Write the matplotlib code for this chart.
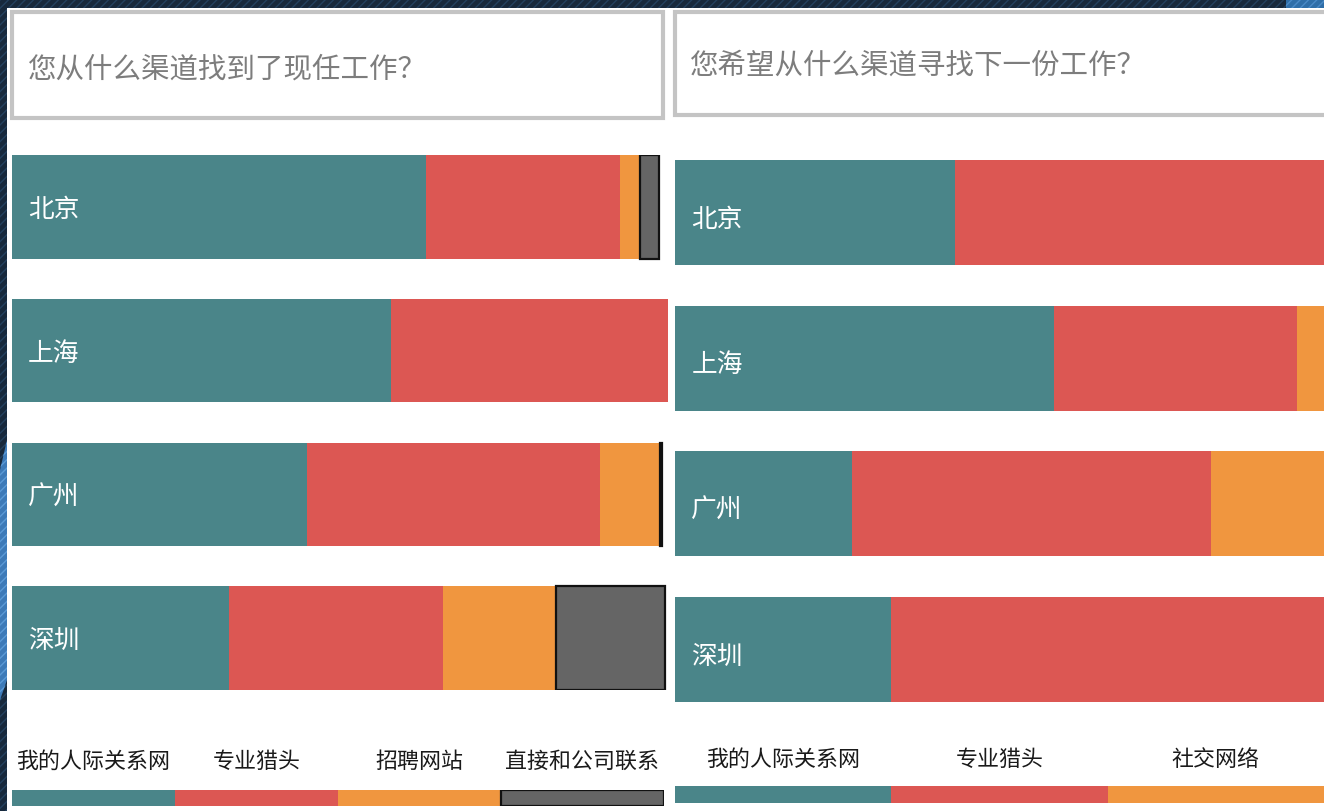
import matplotlib.pyplot as plt
from matplotlib.patches import Rectangle, Polygon
import numpy as np

plt.rcParams['font.family'] = ['Noto Sans CJK SC', 'DejaVu Sans']
plt.rcParams['hatch.linewidth'] = 1.0

W, H = 1324, 811

cities = ["北京", "上海", "广州", "深圳"]

# left panel: 您从什么渠道找到了现任工作？
now_title = "您从什么渠道找到了现任工作？"
now_channels = ["我的人际关系网", "专业猎头", "招聘网站", "直接和公司联系"]
now_network = [63.1, 57.8, 45.0, 33.1]
now_headhunter = [29.6, 42.2, 44.7, 32.6]
now_website = [3.0, 0, 9.1, 17.2]
now_direct = [3.0, 0, 0.3, 16.6]

# right panel: 您希望从什么渠道寻找下一份工作？
next_title = "您希望从什么渠道寻找下一份工作？"
next_channels = ["我的人际关系网", "专业猎头", "社交网络"]
next_network = [43.1, 58.4, 27.3, 33.3]
next_headhunter = [56.9, 37.4, 55.3, 66.7]
next_social = [0, 4.2, 17.4, 0]

colors = ["#4a8589", "#dc5753", "#f0963f", "#656565"]


def px_rect(x0, y0, x1, y1):
    # pixel box (top-left origin) -> figure fraction
    return [x0 / W, 1 - y1 / H, (x1 - x0) / W, (y1 - y0) / H]


fig = plt.figure(figsize=(W / 100, H / 100), dpi=100, facecolor="#18293c")

# background: dark navy with diagonal stripes, light blue streaks, white page
fig.patches.append(Rectangle((0, 0), 1, 1, transform=fig.transFigure,
                             facecolor="#18293c", edgecolor="#24415e",
                             hatch="////", lw=0, zorder=-10))
fig.patches.append(Polygon([(0, 1 - 470 / H), (7 / W, 1 - 440 / H),
                            (7 / W, 1 - 680 / H), (0, 1 - 700 / H)],
                           closed=True, transform=fig.transFigure,
                           facecolor="#3d7ab8", edgecolor="#5b9ad6",
                           hatch="////", lw=0, zorder=-9))
fig.patches.append(Rectangle((1286 / W, 1 - 8 / H), 38 / W, 8 / H,
                             transform=fig.transFigure,
                             facecolor="#2f6ea8", edgecolor="#4a8ac6",
                             hatch="////", lw=0, zorder=-9))
fig.patches.append(Rectangle((7 / W, 0), 1 - 7 / W, 1 - 8 / H,
                             transform=fig.transFigure,
                             facecolor="white", lw=0, zorder=-8))

# title boxes
for box, title, tx, ty in [((12, 12, 663, 118), now_title, 28, 70),
                           ((675, 12, 1330, 115), next_title, 690, 66)]:
    r = px_rect(*box)
    fig.patches.append(Rectangle((r[0], r[1]), r[2], r[3],
                                 transform=fig.transFigure,
                                 facecolor="white", edgecolor="#c4c4c4",
                                 lw=3, zorder=-5))
    fig.text(tx / W, 1 - ty / H, title, fontsize=20.5, color="#7d7d7d",
             va="center", ha="left")


def stacked(ax, series, label_dx, label_dy):
    y = np.arange(len(cities))
    left = np.zeros(len(cities))
    for i, vals in enumerate(series):
        vals = np.array(vals, dtype=float)
        if i == 3:
            lw = [1.6 if v > 0 else 0 for v in vals]
            ax.barh(y, vals, left=left, height=0.72, color=colors[i],
                    edgecolor="#111111", linewidth=lw)
        else:
            ax.barh(y, vals, left=left, height=0.72, color=colors[i],
                    linewidth=0)
        left += vals
    for k, c in enumerate(cities):
        ax.text(label_dx, k + label_dy, c, color="white", fontsize=18.5,
                va="center", ha="left")
    ax.set_xlim(0, 100)
    ax.set_ylim(3.36, -0.36)
    ax.axis("off")


def legend_bar(ax, names, label_y):
    n = len(names)
    for i, name in enumerate(names):
        if i == 3:
            ax.barh(0, 1, left=i, height=1, color=colors[i],
                    edgecolor="#111111", linewidth=1.6)
        else:
            ax.barh(0, 1, left=i, height=1, color=colors[i], linewidth=0)
        ax.text(i + 0.5, label_y, name, fontsize=15.8, color="#1a1a1a",
                ha="center", va="center",
                transform=ax.get_xaxis_transform())
    ax.set_xlim(0, n)
    ax.set_ylim(-0.5, 0.5)
    ax.axis("off")


ax1 = fig.add_axes(px_rect(12, 155, 668, 690))
stacked(ax1, [now_network, now_headhunter, now_website, now_direct], 2.4, 0.02)

ax2 = fig.add_axes(px_rect(675, 160, 1324, 702))
stacked(ax2, [next_network, next_headhunter, next_social], 2.5, 0.05)

lg1 = fig.add_axes(px_rect(12, 790, 664, 806))
legend_bar(lg1, now_channels, 2.75)

lg2 = fig.add_axes(px_rect(675, 786, 1324, 803))
legend_bar(lg2, next_channels, 2.55)

fig.savefig("out.png", dpi=100, facecolor=fig.get_facecolor())
